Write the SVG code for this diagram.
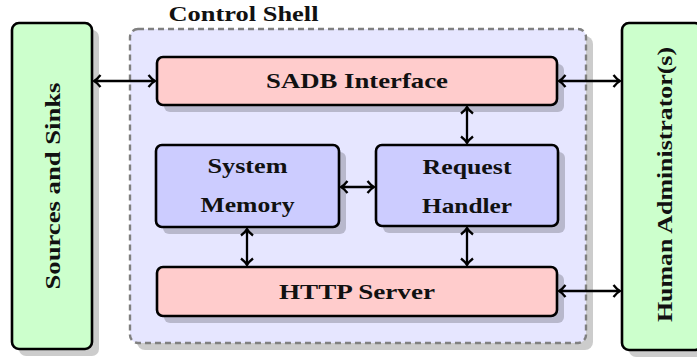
<svg xmlns="http://www.w3.org/2000/svg" width="697" height="358" viewBox="0 0 697 358">
<defs>
<style>
.shadow{fill:#000;fill-opacity:0.2}
.box{stroke:#000;stroke-width:2.6}
.pink{fill:#ffcccc}
.blue{fill:#ccccff}
.green{fill:#ccffcc}
.lbl{font-family:"Liberation Serif","DejaVu Serif",serif;font-weight:bold;font-size:22px;fill:#111;text-anchor:middle}
.conn{stroke:#000;stroke-width:2.3;fill:none}
</style>
<marker id="ah" markerUnits="userSpaceOnUse" viewBox="-9 -8 12 16" markerWidth="12" markerHeight="16" refX="0" refY="0" orient="auto-start-reverse">
<path d="M-6,-6 Q-2.5,-1.5 0.5,0 Q-2.5,1.5 -6,6" fill="none" stroke="#000" stroke-width="2.3"/>
</marker>
</defs>
<rect width="697" height="358" fill="#fff"/>

<g id="control-shell">
<rect class="shadow" x="137" y="36" width="456" height="314" rx="8"/>
<rect x="130" y="29" width="456" height="314" rx="8" fill="#e6e6ff" stroke="#808080" stroke-width="2.4" stroke-dasharray="6,4"/>
<text class="lbl" x="243.5" y="20.5" textLength="150" lengthAdjust="spacingAndGlyphs">Control Shell</text>
</g>

<g id="sources-sinks">
<rect class="shadow" x="19" y="30" width="80" height="326" rx="7"/>
<rect class="box green" x="12" y="23" width="80" height="326" rx="7"/>
<text class="lbl" transform="translate(59.5,186) rotate(-90)" textLength="207" lengthAdjust="spacingAndGlyphs">Sources and Sinks</text>
</g>

<g id="human-admin">
<rect class="shadow" x="629" y="30" width="80" height="327" rx="7"/>
<rect class="box green" x="622" y="23" width="80" height="327" rx="7"/>
<text class="lbl" transform="translate(671.5,184.5) rotate(-90)" textLength="275" lengthAdjust="spacingAndGlyphs">Human Administrator(s)</text>
</g>

<g id="sadb-interface">
<rect class="shadow" x="164" y="64" width="400" height="48" rx="6"/>
<rect class="box pink" x="157" y="57" width="400" height="48" rx="6"/>
<text class="lbl" x="357" y="88" textLength="182" lengthAdjust="spacingAndGlyphs">SADB Interface</text>
</g>

<g id="system-memory">
<rect class="shadow" x="163" y="152" width="183" height="82" rx="6"/>
<rect class="box blue" x="156" y="145" width="183" height="82" rx="6"/>
<text class="lbl" x="247.5" y="172.5" textLength="80" lengthAdjust="spacingAndGlyphs">System</text>
<text class="lbl" x="247.5" y="212" textLength="94" lengthAdjust="spacingAndGlyphs">Memory</text>
</g>

<g id="request-handler">
<rect class="shadow" x="383" y="152" width="182" height="81" rx="6"/>
<rect class="box blue" x="376" y="145" width="182" height="81" rx="6"/>
<text class="lbl" x="467" y="174" textLength="89" lengthAdjust="spacingAndGlyphs">Request</text>
<text class="lbl" x="467" y="213" textLength="90" lengthAdjust="spacingAndGlyphs">Handler</text>
</g>

<g id="http-server">
<rect class="shadow" x="164" y="274" width="400" height="49" rx="6"/>
<rect class="box pink" x="157" y="267" width="400" height="49" rx="6"/>
<text class="lbl" x="357" y="299" textLength="156" lengthAdjust="spacingAndGlyphs">HTTP Server</text>
</g>

<g id="connectors">
<line class="conn" x1="94.5" y1="81" x2="154.5" y2="81" marker-start="url(#ah)" marker-end="url(#ah)"/>
<line class="conn" x1="559.5" y1="81" x2="619.5" y2="81" marker-start="url(#ah)" marker-end="url(#ah)"/>
<line class="conn" x1="467" y1="107.5" x2="467" y2="142.5" marker-start="url(#ah)" marker-end="url(#ah)"/>
<line class="conn" x1="341.5" y1="187" x2="373.5" y2="187" marker-start="url(#ah)" marker-end="url(#ah)"/>
<line class="conn" x1="247" y1="229.5" x2="247" y2="264.5" marker-start="url(#ah)" marker-end="url(#ah)"/>
<line class="conn" x1="467" y1="228.5" x2="467" y2="264.5" marker-start="url(#ah)" marker-end="url(#ah)"/>
<line class="conn" x1="559.5" y1="291" x2="619.5" y2="291" marker-start="url(#ah)" marker-end="url(#ah)"/>
</g>
</svg>
